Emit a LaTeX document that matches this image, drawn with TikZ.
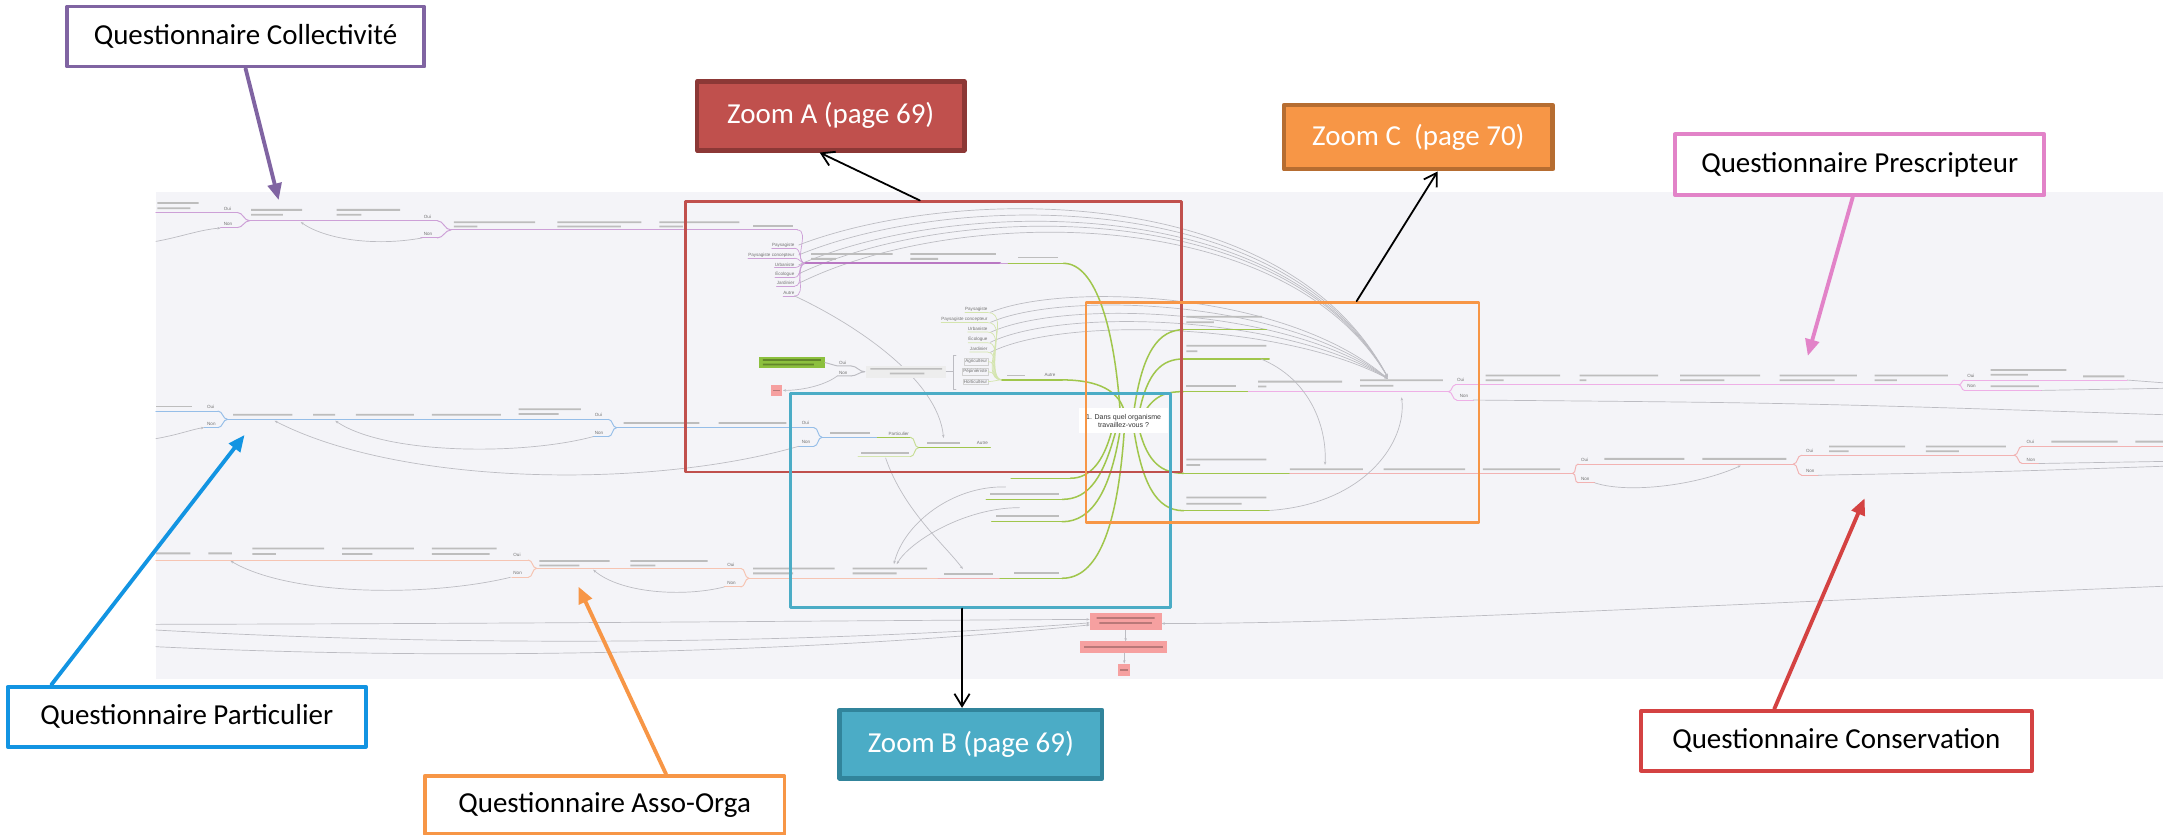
\documentclass[tikz,border=0pt]{standalone}
\usepackage{fontspec}
\setmainfont{Carlito}
\newfontfamily\mapfont{Liberation Sans}
\usetikzlibrary{arrows.meta}
\definecolor{mapbg}{RGB}{244,244,248}
\definecolor{mapgray}{RGB}{188,188,194}
\definecolor{mapgreen}{RGB}{160,198,76}
\definecolor{rowviolet}{RGB}{205,160,215}
\definecolor{rowvioletd}{RGB}{185,120,195}
\definecolor{rowblue}{RGB}{150,190,232}
\definecolor{rowsalmon}{RGB}{246,196,178}
\definecolor{rowpink}{RGB}{238,175,230}
\definecolor{rowred}{RGB}{242,178,178}
\definecolor{greennode}{RGB}{140,192,62}
\definecolor{rednode}{RGB}{246,160,160}
\definecolor{collviolet}{RGB}{128,100,162}
\definecolor{partblue}{RGB}{18,148,226}
\definecolor{assoorange}{RGB}{247,150,70}
\definecolor{prescpink}{RGB}{226,131,200}
\definecolor{conserred}{RGB}{212,66,66}
\definecolor{zoomred}{RGB}{192,80,77}
\definecolor{zoomredd}{RGB}{140,56,54}
\definecolor{zoomorange}{RGB}{247,150,70}
\definecolor{zoomoranged}{RGB}{182,109,49}
\definecolor{zoomteal}{RGB}{75,172,198}
\definecolor{zoomteald}{RGB}{49,132,155}
\begin{document}
\begin{tikzpicture}[x=1pt,y=-1pt,line cap=round,line join=round,
  callout/.style={draw=#1,fill=white,line width=2.8pt,inner sep=0pt,font=\fontsize{21}{25}\selectfont},
  zoomtag/.style={draw=#1,line width=3.2pt,inner sep=0pt,text=white,font=\fontsize{21}{25}\selectfont},
  zoomframe/.style={draw=#1,line width=1.8pt,inner sep=0pt},
  pointer/.style={draw=#1,line width=2.8pt,-{Triangle[length=12pt,width=10pt]}},
  zoomarrow/.style={black,line width=1.3pt,-{Straight Barb[length=9pt,width=11pt]}},
  arcline/.style={mapgray,line width=0.5pt,-{Stealth[length=2.4pt,width=1.8pt]}},
  rowline/.style={#1,line width=0.7pt},
  greenline/.style={mapgreen,line width=1.1pt},
  smudge/.style={fill=black!26},
  mtxt/.style={font=\mapfont\fontsize{3.3}{3.6}\selectfont,text=black!55,inner sep=0pt}]
\useasboundingbox (0,0) rectangle (1568,605);
\fill[mapbg] (113,139) rectangle (1568,492.4);

% grey relation arcs first, rows go on top
\foreach \y/\a in {177.6/135,184.8/139,192/143,198.5/146,205.4/150}
  \draw[arcline] (579,\y) .. controls (690,\a) and (930,\a-5) .. (1006,273.5);
\foreach \y/\a in {226.4/205,233.7/211,240.9/217,248.1/223,255.4/229}
  \draw[arcline] (718,\y) .. controls (770,\a) and (930,\a+5) .. (1006,274.5);

% row: collectivite
\draw[rowline=rowviolet] (113,154) -- (172,154);
\fill[smudge] (114,146.5) rectangle (144,147.8) (114,150.3) rectangle (138,151.6);
\node[mtxt,anchor=west] (ouiA) at (162,151.3) {Oui};
\node[mtxt,anchor=west] (nonA) at (162,162.3) {Non};
\draw[rowline=rowviolet] (160,165) -- (172,165);
\draw[rowline=rowviolet] (172,154) to[out=0,in=180] (181,160) (172,165) to[out=0,in=180] (181,160);
\draw[rowline=rowviolet] (181,160) -- (317,160);
\fill[smudge] (182,151.5) rectangle (219,152.8) (182,155) rectangle (205,156.3);
\fill[smudge] (244,151.5) rectangle (290,152.8) (244,155) rectangle (262,156.3);
\node[mtxt,anchor=west] (ouiB) at (307,157.3) {Oui};
\node[mtxt,anchor=west] (nonB) at (307,169.8) {Non};
\draw[rowline=rowviolet] (305,172.5) -- (317,172.5);
\draw[rowline=rowviolet] (317,160) to[out=0,in=180] (327,166.7) (317,172.5) to[out=0,in=180] (327,166.7);
\draw[rowline=rowviolet] (327,166.7) -- (578,166.7);
\fill[smudge] (329,160.5) rectangle (388,161.8) (329,163.5) rectangle (346,164.8);
\fill[smudge] (404,160.5) rectangle (465,161.8) (404,163.5) rectangle (450,164.8);
\fill[smudge] (478,160.5) rectangle (536,161.8) (478,163.5) rectangle (495,164.8);
\fill[smudge] (546,163) rectangle (575,164.3);
\draw[arcline] (306,172.5) .. controls (270,179) and (235,173) .. (218,161);
\draw[arcline] (113,175) .. controls (130,172) and (145,166.5) .. (160,165.3);

% first list of trades
\node[mtxt,anchor=east] (l1a) at (576,177.6) {Paysagiste};
\node[mtxt,anchor=east] (l1b) at (576,184.8) {Paysagiste concepteur};
\node[mtxt,anchor=east] (l1c) at (576,192) {Urbaniste};
\node[mtxt,anchor=east] (l1d) at (576,198.5) {Écologue};
\node[mtxt,anchor=east] (l1e) at (576,205.4) {Jardinier};
\node[mtxt,anchor=east] (l1f) at (576,212.6) {Autre};
\foreach \n in {l1a,l1b,l1c,l1d,l1e,l1f}{
  \draw[rowviolet,line width=0.5pt] ([yshift=-0.6pt]\n.south west) -- ([yshift=-0.6pt]\n.south east);
  \draw[rowviolet,line width=0.5pt] ([yshift=-0.6pt]\n.south east) to[out=0,in=180] (584,190.9);
}
\draw[rowviolet,line width=0.5pt] (578,166.7) to[out=0,in=180] (584,190.9);
\draw[rowvioletd,line width=1.4pt] (584,190.9) -- (725,190.9);
\draw[rowline=rowviolet] (725,190.9) -- (731,190.9);
\draw[greenline] (731,190.9) -- (771,190.9);
\fill[smudge] (588,183.5) rectangle (647,184.8) (588,187) rectangle (606,188.3);
\fill[smudge] (660,183.5) rectangle (722,184.8) (660,187) rectangle (680,188.3);
\fill[smudge] (738,186) rectangle (767,187.3);
\draw[arcline] ([yshift=-0.6pt]l1f.south east) .. controls (620,235) and (680,275) .. (684,317.5);

% green and red end nodes, question 5
\fill[greennode] (550,258.6) rectangle (598,267);
\fill[black!30!greennode] (553,260.4) rectangle (595,261.6) (553,263.6) rectangle (590,264.8);
\fill[rednode] (558.7,279) rectangle (566.7,287);
\fill[black!25!rednode] (560,282.4) rectangle (565.4,283.6);
\node[mtxt,anchor=west] (ouiC) at (608,263.2) {Oui};
\node[mtxt,anchor=west] (nonC) at (608,270.4) {Non};
\draw[rowline=mapgray] (598,262.8) -- (607,265.3) -- (617,265.3) (607,272.5) -- (617,272.5);
\draw[rowline=mapgray] (617,265.3) to[out=0,in=180] (627,269.5) (617,272.5) to[out=0,in=180] (627,269.5);
\draw[arcline] (607,272.5) .. controls (597,280) and (580,283) .. (567.5,283);
\fill[black!7] (628,265) rectangle (686,274);
\fill[smudge] (631,266.8) rectangle (683,268) (645,270.2) rectangle (670,271.4);
\draw[rowline=mapgray] (686,269.5) -- (691,269.5);
\draw[mapgray,line width=0.5pt] (693,257.3) -- (691,257.3) -- (691,282.6) -- (693,282.6);

% second list of trades
\node[mtxt,anchor=east] (l2a) at (716,224.2) {Paysagiste};
\node[mtxt,anchor=east] (l2b) at (716,231.5) {Paysagiste concepteur};
\node[mtxt,anchor=east] (l2c) at (716,238.7) {Urbaniste};
\node[mtxt,anchor=east] (l2d) at (716,245.9) {Écologue};
\node[mtxt,anchor=east] (l2e) at (716,253.2) {Jardinier};
\node[mtxt,anchor=east,draw=black!18,line width=0.3pt,inner sep=0.8pt] (l2f) at (716.5,262.1) {Agriculteur};
\node[mtxt,anchor=east,draw=black!18,line width=0.3pt,inner sep=0.8pt] (l2g) at (716.5,269.4) {Pépiniériste};
\node[mtxt,anchor=east,draw=black!18,line width=0.3pt,inner sep=0.8pt] (l2h) at (716.5,276.6) {Horticulteur};
\foreach \n in {l2a,l2b,l2c,l2d,l2e}
  \draw[mapgreen!45,line width=0.5pt] ([yshift=-0.6pt]\n.south west) -- ([yshift=-0.6pt]\n.south east) to[out=0,in=180] (726.4,275.4);
\foreach \n in {l2f,l2g,l2h}
  \draw[mapgreen!45,line width=0.5pt] (\n.east) to[out=0,in=180] (726.4,275.4);
\fill[smudge] (730,271.6) rectangle (743,272.8);
\node[mtxt,anchor=west] (autreM) at (757,271.6) {Autre};
\draw[greenline] (726.4,275.4) -- (770,275.4);

% row: particulier
\fill[smudge] (113,294) rectangle (139,295.3);
\draw[rowline=rowblue] (113,298) -- (158,298);
\node[mtxt,anchor=west] (ouiD) at (150,294.8) {Oui};
\node[mtxt,anchor=west] (nonD) at (150,307) {Non};
\draw[rowline=rowblue] (148,310) -- (158,310);
\draw[arcline] (113,318) .. controls (130,315) and (140,311) .. (148,310);
\draw[rowline=rowblue] (158,298) to[out=0,in=180] (165,304) (158,310) to[out=0,in=180] (165,304);
\draw[rowline=rowblue] (165,304) -- (441,304);
\fill[smudge] (169,300) rectangle (212,301.3) (227,300) rectangle (243,301.3) (258,300) rectangle (300,301.3) (313,300) rectangle (363,301.3);
\fill[smudge] (376,296) rectangle (421,297.3) (376,299.5) rectangle (405,300.8);
\node[mtxt,anchor=west] (ouiE) at (431,300.8) {Oui};
\node[mtxt,anchor=west] (nonE) at (431,313.6) {Non};
\draw[rowline=rowblue] (430,316.5) -- (441,316.5);
\draw[rowline=rowblue] (441,304) to[out=0,in=180] (447,310) (441,316.5) to[out=0,in=180] (447,310);
\draw[rowline=rowblue] (447,310) -- (590,310);
\fill[smudge] (452,306) rectangle (507,307.3) (521,306) rectangle (570,307.3);
\node[mtxt,anchor=west] (ouiF) at (581,306.8) {Oui};
\node[mtxt,anchor=west] (nonF) at (581,320.4) {Non};
\draw[rowline=rowblue] (579,323.5) -- (590,323.5);
\draw[rowline=rowblue] (590,310) to[out=0,in=180] (596,317) (590,323.5) to[out=0,in=180] (596,317);
\draw[rowline=rowblue] (596,317) -- (636,317);
\fill[smudge] (602,313.3) rectangle (631,314.6);
\draw[greenline,line width=0.7pt] (636,317) -- (660,317);
\node[mtxt,anchor=west] (partic) at (644,314.2) {Particulier};
\fill[smudge] (624,327.6) rectangle (659,328.9);
\draw[mapgreen!45,line width=0.7pt] (622,331) -- (660,331);
\draw[mapgreen!60,line width=0.7pt] (660,317) to[out=0,in=180] (666,324.5) (660,331) to[out=0,in=180] (666,324.5);
\draw[greenline,line width=0.7pt] (666,324.5) -- (718,324.5);
\fill[smudge] (672,320.3) rectangle (696,321.6);
\node[mtxt,anchor=west] (autreP) at (708,321) {Autre};
\draw[arcline] (430,316.5) .. controls (380,330) and (280,330) .. (243,305);
\draw[arcline] (579,323.5) .. controls (470,355) and (290,352) .. (199,305);

% row: asso-orga
\fill[smudge] (113,400.5) rectangle (138,401.8) (151,400.5) rectangle (168,401.8);
\draw[rowline=rowsalmon] (113,406) -- (383,406);
\fill[smudge] (183,397) rectangle (235,398.3) (183,401) rectangle (200,402.3);
\fill[smudge] (248,397) rectangle (300,398.3) (248,401) rectangle (270,402.3);
\fill[smudge] (313,397) rectangle (360,398.3) (313,401) rectangle (355,402.3);
\node[mtxt,anchor=west] (ouiG) at (372,402.3) {Oui};
\node[mtxt,anchor=west] (nonG) at (372,415.4) {Non};
\draw[rowline=rowsalmon] (371,418.5) -- (383,418.5);
\draw[rowline=rowsalmon] (383,406) to[out=0,in=180] (389,412) (383,418.5) to[out=0,in=180] (389,412);
\draw[rowline=rowsalmon] (389,412) -- (537,412);
\fill[smudge] (391,406) rectangle (442,407.3) (391,409.3) rectangle (420,410.6);
\fill[smudge] (457,406) rectangle (513,407.3) (457,409.3) rectangle (475,410.6);
\node[mtxt,anchor=west] (ouiH) at (527,409.4) {Oui};
\node[mtxt,anchor=west] (nonH) at (527,422.7) {Non};
\draw[rowline=rowsalmon] (525,425.5) -- (537,425.5);
\draw[rowline=rowsalmon] (537,412) to[out=0,in=180] (543,419.2) (537,425.5) to[out=0,in=180] (543,419.2);
\draw[rowline=rowsalmon] (543,419.2) -- (680,419.2);
\draw[rowline=rowred] (680,419.2) -- (725,419.2);
\draw[greenline] (725,419.2) -- (770,419.2);
\fill[smudge] (546,411.5) rectangle (605,412.8) (546,415) rectangle (575,416.3);
\fill[smudge] (618,411.5) rectangle (672,412.8) (618,415) rectangle (650,416.3);
\fill[smudge] (684,415.4) rectangle (720,416.7);
\fill[smudge] (735,415) rectangle (768,416.3);
\draw[arcline] (370,418.5) .. controls (310,433) and (210,432) .. (167,406.5);
\draw[arcline] (525,425.5) .. controls (495,433) and (450,430) .. (430,413);

% organisms on the lower left of the centre
\fill[smudge] (737,341.2) rectangle (774,342.5);
\draw[greenline] (733,346.7) -- (776,346.7);
\fill[smudge] (718,357.6) rectangle (768,358.9);
\draw[greenline] (715,362) -- (770,362);
\fill[smudge] (722,373.2) rectangle (768,374.5);
\draw[greenline] (719,378.2) -- (770,378.2);
\draw[arcline] (642,332) .. controls (655,370) and (685,395) .. (698,412.5);
\draw[arcline] (729,353) .. controls (690,352) and (655,380) .. (648,409);
\draw[arcline] (739,368) .. controls (700,368) and (660,392) .. (650,409);

% organisms on the right, prescripteur and conservation rows
\fill[smudge] (860,229) rectangle (915,230.3) (860,233) rectangle (880,234.3);
\draw[greenline] (858,239) -- (918,239);
\fill[smudge] (860,250) rectangle (918,251.3) (860,254) rectangle (868,255.3);
\draw[greenline] (858,260.2) -- (920,260.2);
\fill[smudge] (860,279.4) rectangle (896,280.7);
\draw[greenline] (858,283.9) -- (905,283.9);
\draw[rowline=rowpink] (905,283.9) -- (1050,283.9);
\fill[smudge] (912,276) rectangle (973,277.3) (912,279.5) rectangle (918,280.8);
\fill[smudge] (986,275) rectangle (1046,276.3) (986,279) rectangle (1010,280.3);
\node[mtxt,anchor=west] (ouiJ) at (1056,275.6) {Oui};
\node[mtxt,anchor=west] (nonJ) at (1058,287) {Non};
\draw[rowline=rowpink] (1050,283.9) to[out=0,in=180] (1055,279) (1050,283.9) to[out=0,in=180] (1056,290);
\draw[rowline=rowpink] (1056,290) -- (1068,290);
\draw[rowline=rowpink] (1055,279) -- (1420,279);
\fill[smudge] (1077,271.5) rectangle (1131,272.8) (1077,275) rectangle (1090,276.3);
\fill[smudge] (1145,271.5) rectangle (1202,272.8) (1145,275) rectangle (1150,276.3);
\fill[smudge] (1218,271.5) rectangle (1276,272.8) (1218,275) rectangle (1250,276.3);
\fill[smudge] (1290,271.5) rectangle (1346,272.8) (1290,275) rectangle (1330,276.3);
\fill[smudge] (1359,271.5) rectangle (1412,272.8) (1359,275) rectangle (1375,276.3);
\draw[rowline=rowpink] (1420,279) to[out=0,in=180] (1424,275.5) (1420,279) to[out=0,in=180] (1424,283);
\node[mtxt,anchor=west] (ouiK) at (1426,272.6) {Oui};
\node[mtxt,anchor=west] (nonK) at (1426,280) {Non};
\draw[rowline=rowpink] (1424,275.5) -- (1542,275.5) (1424,283) -- (1480,283);
\fill[smudge] (1443,267.5) rectangle (1498,268.8) (1443,271) rectangle (1470,272.3);
\fill[smudge] (1510,272.2) rectangle (1540,273.5) (1443,279.3) rectangle (1478,280.6);
\draw[mapgray,line width=0.5pt] (1542,275.5) -- (1568,277.5) (1480,283) -- (1568,281.5);
\draw[mapgray,line width=0.5pt] (1068,290) .. controls (1300,292) .. (1568,300.6);

\fill[smudge] (860,332.5) rectangle (918,333.8) (860,336.5) rectangle (870,337.8);
\draw[greenline] (858,343.1) -- (935,343.1);
\draw[rowline=rowred] (935,343.1) -- (1140,343.1);
\fill[smudge] (935,339.5) rectangle (988,340.8) (1003,339.5) rectangle (1062,340.8) (1075,339.5) rectangle (1131,340.8);
\draw[rowline=rowred] (1140,343.1) to[out=0,in=180] (1144,336.4) (1140,343.1) to[out=0,in=180] (1144,350);
\node[mtxt,anchor=west] (ouiL) at (1146,333.4) {Oui};
\node[mtxt,anchor=west] (nonL) at (1146,347) {Non};
\draw[rowline=rowred] (1144,336.4) -- (1300,336.4) (1144,350) -- (1156,350);
\fill[smudge] (1163,332) rectangle (1221,333.3) (1234,332) rectangle (1295,333.3);
\draw[rowline=rowred] (1300,336.4) to[out=0,in=180] (1306,330) (1300,336.4) to[out=0,in=180] (1306,344.5);
\node[mtxt,anchor=west] (ouiM) at (1309,326.7) {Oui};
\node[mtxt,anchor=west] (nonM) at (1309,341.7) {Non};
\draw[rowline=rowred] (1306,330) -- (1460,330) (1306,344.5) -- (1318,344.5);
\fill[smudge] (1326,323) rectangle (1381,324.3) (1326,326.5) rectangle (1340,327.8);
\fill[smudge] (1396,323) rectangle (1454,324.3) (1396,326.5) rectangle (1420,327.8);
\draw[rowline=rowred] (1460,330) to[out=0,in=180] (1466,323.5) (1460,330) to[out=0,in=180] (1466,336);
\node[mtxt,anchor=west] (ouiN) at (1469,320.6) {Oui};
\node[mtxt,anchor=west] (nonN) at (1469,333.4) {Non};
\draw[rowline=rowred] (1466,323.5) -- (1568,323.5) (1466,336) -- (1478,336);
\fill[smudge] (1487,319.5) rectangle (1535,320.8) (1548,319.5) rectangle (1568,320.8);
\draw[mapgray,line width=0.5pt] (1478,336) -- (1568,334.5);
\draw[mapgray,line width=0.5pt] (1318,344.5) .. controls (1450,342) .. (1568,338);
\draw[arcline] (1156,350) .. controls (1180,358) and (1230,352) .. (1262,337.5);

\fill[smudge] (860,360) rectangle (918,361.3) (860,364.5) rectangle (900,365.8);
\draw[greenline] (858,370.2) -- (920,370.2);
\draw[arcline] (914,260.2) .. controls (950,275) and (962,310) .. (960.5,337);
\draw[arcline] (921,370) .. controls (990,365) and (1020,320) .. (1016,288);

% green branches out of the central question
\draw[greenline] (812,298) .. controls (808,240) and (795,191) .. (771,190.9);
\draw[greenline] (815,298) .. controls (810,280) and (790,275.4) .. (770,275.4);
\draw[greenline] (822,298) .. controls (828,255) and (840,239) .. (858,239);
\draw[greenline] (826,298) .. controls (832,270) and (842,260.2) .. (858,260.2);
\draw[greenline] (830,298) .. controls (838,286) and (846,283.9) .. (858,283.9);
\draw[greenline] (826,312) .. controls (832,335) and (842,343.1) .. (858,343.1);
\draw[greenline] (822,312) .. controls (828,350) and (838,370.2) .. (858,370.2);
\draw[greenline] (806,312) .. controls (800,335) and (790,346.7) .. (776,346.7);
\draw[greenline] (809,312) .. controls (800,345) and (790,362) .. (770,362);
\draw[greenline] (812,312) .. controls (805,355) and (792,378.2) .. (770,378.2);
\draw[greenline] (815,312) .. controls (810,385) and (795,419.2) .. (770,419.2);
\node[fill=white,minimum width=64pt,minimum height=18pt,inner sep=1pt,align=center,
  font=\mapfont\fontsize{5.1}{6}\selectfont,text=black!80] (centre) at (814.5,305) {1. Dans quel organisme\\travaillez-vous ?};

% end of the questionnaire, bottom centre
\draw[arcline] (113,452.6) .. controls (400,452) and (600,450) .. (790,449);
\draw[arcline] (113,456.7) .. controls (350,470) and (600,466) .. (790,451.5);
\draw[arcline] (113,468.8) .. controls (350,480) and (600,472) .. (790,453);
\draw[arcline] (1568,425) .. controls (1200,440) and (1000,452) .. (842,452);
\fill[rednode] (790.4,444.6) rectangle (842,456.7);
\fill[black!25!rednode] (795,447.3) rectangle (837,448.6) (797,451) rectangle (835,452.3);
\fill[rednode] (783,465) rectangle (846,473.4);
\fill[black!25!rednode] (786,468.6) rectangle (843,469.9);
\fill[rednode] (810.7,481) rectangle (818.8,490);
\fill[black!25!rednode] (812,485) rectangle (817.5,486.2);
\draw[arcline] (816,456.7) -- (816,465);
\draw[arcline] (815,473.4) -- (815,481);

% zoom frames
\node[zoomframe=zoomred,minimum width=359.6pt,minimum height=195.8pt] (frameA) at (676.8,244.1) {};
\node[zoomframe=zoomteal,minimum width=275.4pt,minimum height=155.2pt] (frameB) at (710.7,362.7) {};
\node[zoomframe=zoomorange,minimum width=284.9pt,minimum height=159.7pt] (frameC) at (929.65,299.05) {};

% callouts
\node[callout=collviolet,minimum width=258.9pt,minimum height=43.5pt] (coll) at (178,26.5) {Questionnaire Collectivité};
\node[zoomtag=zoomredd,fill=zoomred,minimum width=193.7pt,minimum height=50pt] (zoomA) at (602.2,84) {Zoom A (page 69)};
\node[zoomtag=zoomoranged,fill=zoomorange,minimum width=194.7pt,minimum height=46.6pt] (zoomC) at (1028.2,99.4) {Zoom C~ (page 70)};
\node[callout=prescpink,minimum width=267.8pt,minimum height=44pt] (prescr) at (1348.1,119.4) {Questionnaire Prescripteur};
\node[callout=partblue,minimum width=259.6pt,minimum height=43.5pt] (part) at (135.4,519.6) {Questionnaire Particulier};
\node[zoomtag=zoomteald,fill=zoomteal,minimum width=190.3pt,minimum height=49.5pt] (zoomB) at (703.8,539.5) {Zoom B (page 69)};
\node[callout=conserred,minimum width=283.2pt,minimum height=43.3pt] (conserv) at (1331.2,537) {Questionnaire Conservation};
\node[callout=assoorange,minimum width=260.7pt,minimum height=42pt] (asso) at (438.3,583.5) {Questionnaire Asso-Orga};

\coordinate (collTip) at (202,145);
\coordinate (prescrTip) at (1310.5,258);
\coordinate (partTip) at (177.3,315.3);
\coordinate (conservTip) at (1351.7,361.2);
\coordinate (assoTip) at (419.4,425.3);
\draw[pointer=collviolet] (coll.south) -- (collTip);
\draw[pointer=prescpink] ([xshift=-5pt]prescr.south) -- (prescrTip);
\draw[pointer=partblue] ([xshift=33pt]part.north west) -- (partTip);
\draw[pointer=conserred] ([xshift=-45pt]conserv.north) -- (conservTip);
\draw[pointer=assoorange] ([xshift=44.5pt]asso.north) -- (assoTip);
\draw[zoomarrow] ([xshift=-10pt]frameA.north) -- ([xshift=-8pt]zoomA.south);
\draw[zoomarrow] ([xshift=-13.3pt]frameB.south) -- ([xshift=-6.4pt]zoomB.north);
\draw[zoomarrow] ([xshift=53.8pt]frameC.north) -- ([xshift=14pt]zoomC.south);
\end{tikzpicture}
\end{document}
